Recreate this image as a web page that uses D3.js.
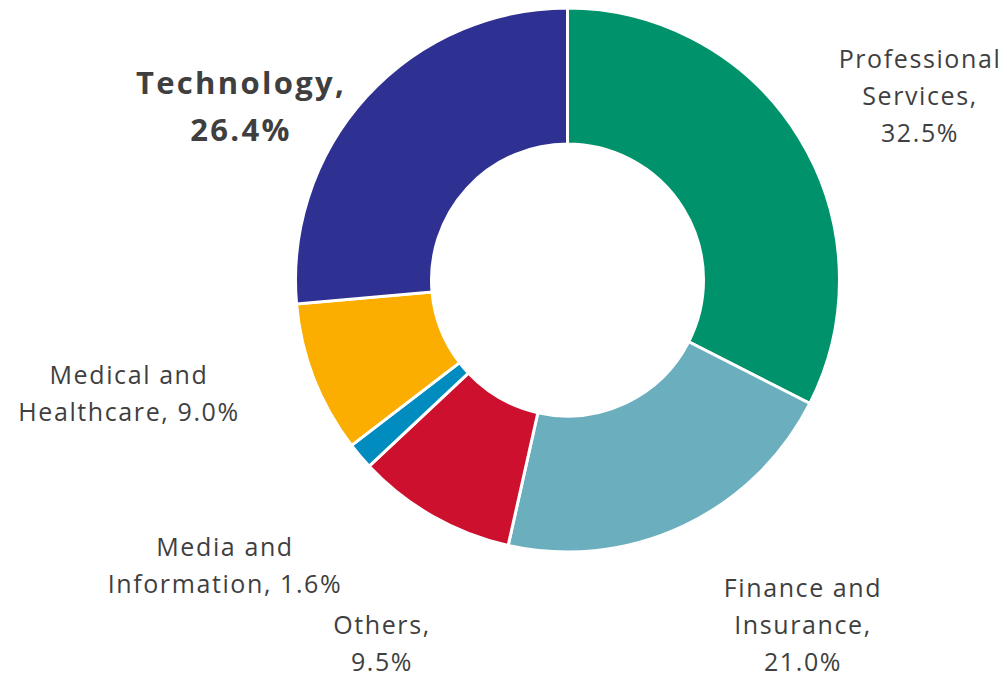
<!DOCTYPE html>
<html><head><meta charset="utf-8">
<script src="https://cdn.jsdelivr.net/npm/d3@7"></script>
<style>html,body{margin:0;padding:0;background:#fff;}svg{display:block;}</style>
</head><body>
<svg id="chart" width="1007" height="677"></svg>
<script>
const categories = ["Professional Services","Finance and Insurance","Others","Media and Information","Medical and Healthcare","Technology"];
const values = [32.5, 21.0, 9.5, 1.6, 9.0, 26.4];
const colors = ["#00936B","#6BAEBE","#CC102E","#008CBE","#FBAD00","#2E3192"];
const labelLines = [
  ["Professional","Services,","32.5%"],
  ["Finance and","Insurance,","21.0%"],
  ["Others,","9.5%"],
  ["Media and","Information, 1.6%"],
  ["Medical and","Healthcare, 9.0%"],
  ["Technology,","26.4%"]
];
const labelPos = [[920,59],[803,588],[382,625],[225,547],[129,375],[241,83]];
const labelBold = [false,false,false,false,false,true];

const svg = d3.select("#chart");
const cx = 567.5, cy = 280, R = 272, r = 136;
const g = svg.append("g").attr("transform",`translate(${cx},${cy})`);
const pie = d3.pie().sort(null).value(d=>d);
const arc = d3.arc().innerRadius(r).outerRadius(R);
g.selectAll("path").data(pie(values)).join("path")
  .attr("d",arc).attr("fill",(d,i)=>colors[i])
  .attr("stroke","#fff").attr("stroke-width",3).attr("stroke-linejoin","miter");

const lh = 37;
labelLines.forEach((lines,i)=>{
  const t = svg.append("text")
    .attr("text-anchor","middle")
    .attr("font-family","'Open Sans', sans-serif")
    .attr("font-size", labelBold[i]?31:25)
    .attr("font-weight", labelBold[i]?"bold":"normal")
    .attr("letter-spacing", labelBold[i]?"2.3px":"1.6px")
    .attr("fill","#3f3f3f");
  lines.forEach((ln,j)=>{
    t.append("tspan").attr("x",labelPos[i][0])
      .attr("y",labelPos[i][1] + j*(labelBold[i]?47:lh))
      .attr("dy","0.35em").text(ln);
  });
});
</script>
</body></html>
